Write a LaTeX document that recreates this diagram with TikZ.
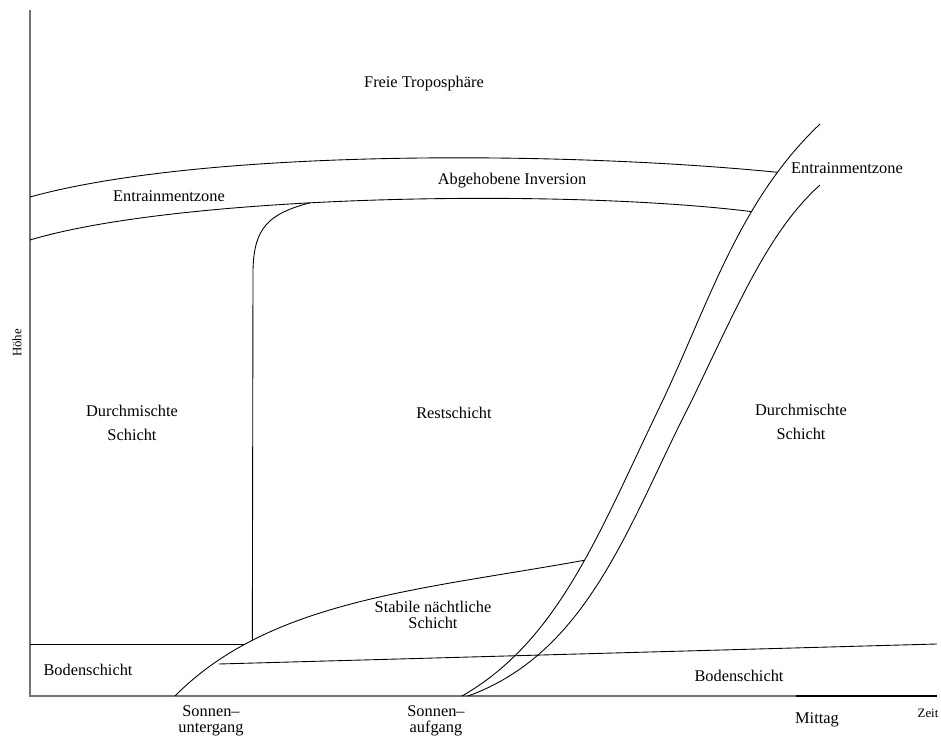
\documentclass[tikz,border=0pt]{standalone}
\usepackage{fontspec}
\setmainfont{Liberation Serif}
\tikzstyle{layer}=[align=center,inner sep=0pt,font=\fontsize{9.3}{11}\selectfont]
\tikzstyle{axislabel}=[inner sep=0pt,font=\fontsize{7.3}{9}\selectfont]
\tikzstyle{border}=[draw=black,line width=0.5pt]
\tikzstyle{axis}=[draw=black!55,line width=1pt]
\usetikzlibrary{positioning}

\begin{document}
\begin{tikzpicture}[x=0.02cm,y=-0.02cm]
            \useasboundingbox (0,0) rectangle (941,736);

            % AXES PART

            \coordinate (top) at (30,10);
            \coordinate (orig) at (30,696);
            \coordinate (noonL) at (796,696);
            \coordinate (noonR) at (937,696);
            \draw[axis] (top) -- (orig) -- (noonL);
            \draw[line width=1.3pt] (noonL) -- (noonR);

            \node[axislabel,rotate=90] (hoehe) at (17,343) {Höhe};
            \node[axislabel] (zeit) at (928,713) {Zeit};
            \node[layer] (noon) at (817,720) {Mittag};
            \node[layer] (sunset) at (211,721) {Sonnen--\\[-2pt]untergang};
            \node[layer] (sunrise) at (436,721) {Sonnen--\\[-2pt]aufgang};

            % DAY PART

            \coordinate (riseL) at (462,696);
            \coordinate (riseR) at (468,696);
            \coordinate (midL) at (663,400);
            \coordinate (midR) at (692,400);
            \coordinate (topL) at (820,124);
            \coordinate (topR) at (820,185);
            \draw[border] (riseL) .. controls (560,640) and (600,530) .. (midL)
                coordinate[pos=0.55] (nightEnd)
                .. controls (710,300) and (740,200) .. (topL)
                coordinate[pos=0.8] (invTR)
                coordinate[pos=0.65] (invBR);
            \draw[border] (riseR) .. controls (590,652) and (630,520) .. (midR)
                .. controls (740,300) and (770,230) .. (topR);

            \node[layer] (mixR) at (801,422) {Durchmischte\\[2.5pt]Schicht};
            \node[layer] (bodenR) at (739,676) {Bodenschicht};

            % INVERSION PART

            \coordinate (invTL) at (30,197);
            \coordinate (invBL) at (30,240);
            \draw[border] (invTL) .. controls (200,150) and (550,150) .. (invTR);
            \draw[border] (invBL) .. controls (180,195) and (560,188) .. (invBR)
                coordinate[pos=0.42] (restTop);

            \node[layer] (frei) at (424,84) {Freie Troposphäre};
            \node[layer] (entrL) at (169,196) {Entrainmentzone};
            \node[layer] (inv) at (512,181) {Abgehobene Inversion};
            \node[layer] (entrR) at (847,168) {Entrainmentzone};

            % NIGHT PART

            \coordinate (sunsetP) at (175,696);
            \draw[border] (sunsetP) .. controls (270,600) and (420,590) .. (nightEnd)
                coordinate[pos=0.215] (soilR)
                coordinate[pos=0.24] (restBot);
            \draw[border] (restBot) -- (253,270) .. controls (254,228) and (268,214) .. (restTop);
            \coordinate (soilL) at (30,644);
            \draw[border] (soilL) -- (soilL -| soilR);
            \coordinate (stableL) at (219,664);
            \coordinate (stableR) at (937,644);
            \draw[border] (stableL) -- (stableR);

            \node[layer] (mixL) at (132,423) {Durchmischte\\[2.5pt]Schicht};
            \node[layer] (rest) at (454,413) {Restschicht};
            \node[layer] (stab) at (433,615) {Stabile nächtliche\\[-2.3pt]Schicht};
            \node[layer] (bodenL) at (88,670) {Bodenschicht};

\end{tikzpicture}
\end{document}
